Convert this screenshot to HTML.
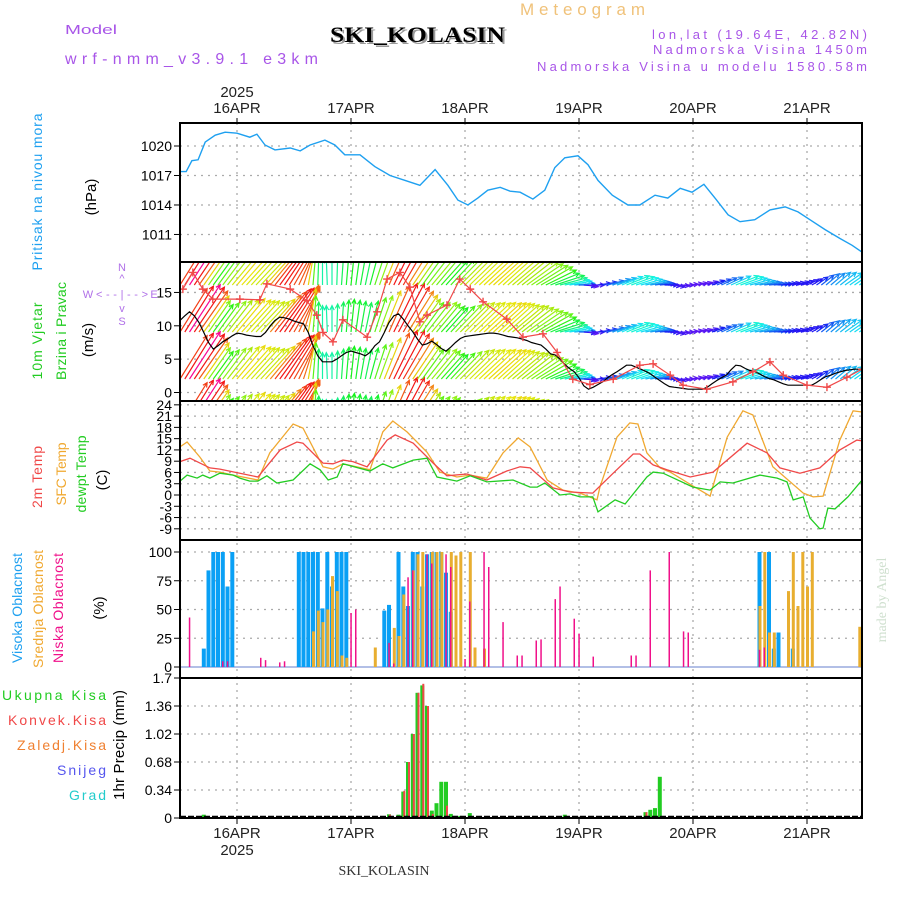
<!DOCTYPE html>
<html><head><meta charset="utf-8"><style>
html,body{margin:0;padding:0;background:#fff;}
svg{display:block;font-family:"Liberation Sans",sans-serif;}
</style></head><body>
<svg id="chart" width="900" height="900" viewBox="0 0 900 900" xmlns="http://www.w3.org/2000/svg">
<rect width="900" height="900" fill="#fff"/>
<g id="header">
<text x="65" y="34" font-size="13" fill="#a855e8" textLength="52" lengthAdjust="spacingAndGlyphs">Model</text>
<text x="65" y="64" font-size="16" fill="#a855e8" textLength="253" lengthAdjust="spacing">wrf-nmm_v3.9.1 e3km</text>
<text x="332" y="44" font-size="22" font-weight="bold" font-family="Liberation Serif,serif" fill="#9a9a9a" textLength="175" lengthAdjust="spacingAndGlyphs">SKI_KOLASIN</text>
<text x="330" y="42" font-size="22" font-weight="bold" font-family="Liberation Serif,serif" fill="#000" textLength="175" lengthAdjust="spacingAndGlyphs">SKI_KOLASIN</text>
<text x="520" y="15" font-size="17" fill="#f0c27a" textLength="125" lengthAdjust="spacing">Meteogram</text>
<text x="652" y="39" font-size="13" fill="#a855e8" textLength="215" lengthAdjust="spacing">lon,lat (19.64E, 42.82N)</text>
<text x="653" y="54" font-size="13" fill="#a855e8" textLength="214" lengthAdjust="spacing">Nadmorska Visina 1450m</text>
<text x="537" y="71" font-size="13" fill="#a855e8" textLength="330" lengthAdjust="spacing">Nadmorska Visina u modelu 1580.58m</text>
</g>
<g id="labels" font-size="14">
<text transform="translate(42,192) rotate(-90)" text-anchor="middle" fill="#1ea0f0" textLength="157" lengthAdjust="spacing">Pritisak na nivou mora</text>
<text transform="translate(96,197) rotate(-90)" text-anchor="middle" fill="#000" font-size="15">(hPa)</text>
<text transform="translate(42,341) rotate(-90)" text-anchor="middle" fill="#22cc22" textLength="77" lengthAdjust="spacing">10m Vjetar</text>
<text transform="translate(66,331) rotate(-90)" text-anchor="middle" fill="#22cc22" textLength="98" lengthAdjust="spacing">Brzina i Pravac</text>
<text transform="translate(93,340) rotate(-90)" text-anchor="middle" fill="#000" font-size="15">(m/s)</text>
<g fill="#b070e8" font-size="11" stroke="none">
<text x="122" y="271" text-anchor="middle">N</text><text x="122" y="282" text-anchor="middle">^</text>
<text x="88" y="298" text-anchor="middle">W</text><text x="154" y="298" text-anchor="middle">E</text>
<text x="122" y="298" text-anchor="middle" textLength="52" lengthAdjust="spacing">&lt;--|--&gt;</text>
<text x="122" y="312" text-anchor="middle">v</text><text x="122" y="325" text-anchor="middle">S</text>
</g>
<text transform="translate(42,477) rotate(-90)" text-anchor="middle" fill="#f04848" textLength="62" lengthAdjust="spacing">2m Temp</text>
<text transform="translate(66,474) rotate(-90)" text-anchor="middle" fill="#f0a830" textLength="63" lengthAdjust="spacing">SFC Temp</text>
<text transform="translate(86,474) rotate(-90)" text-anchor="middle" fill="#22cc22" textLength="77" lengthAdjust="spacing">dewpt Temp</text>
<text transform="translate(107,480) rotate(-90)" text-anchor="middle" fill="#000" font-size="15">(C)</text>
<text transform="translate(22,608) rotate(-90)" text-anchor="middle" fill="#1ea0f0" textLength="110" lengthAdjust="spacing">Visoka Oblacnost</text>
<text transform="translate(43,609) rotate(-90)" text-anchor="middle" fill="#f0a830" textLength="118" lengthAdjust="spacing">Srednja Oblacnost</text>
<text transform="translate(63,608) rotate(-90)" text-anchor="middle" fill="#f0108a" textLength="110" lengthAdjust="spacing">Niska Oblacnost</text>
<text transform="translate(104,608) rotate(-90)" text-anchor="middle" fill="#000" font-size="15">(%)</text>
<g text-anchor="end" font-size="14">
<text x="106" y="700" fill="#22cc22" textLength="104" lengthAdjust="spacing">Ukupna Kisa</text>
<text x="106" y="725" fill="#f04848" textLength="98" lengthAdjust="spacing">Konvek.Kisa</text>
<text x="106" y="750" fill="#f08030" textLength="89" lengthAdjust="spacing">Zaledj.Kisa</text>
<text x="106" y="775" fill="#5555ee" textLength="49" lengthAdjust="spacing">Snijeg</text>
<text x="106" y="800" fill="#22cccc" textLength="37" lengthAdjust="spacing">Grad</text>
</g>
<text transform="translate(124,745) rotate(-90)" text-anchor="middle" fill="#000" font-size="15" textLength="110" lengthAdjust="spacing">1hr Precip (mm)</text>
<text transform="translate(886,600) rotate(-90)" text-anchor="middle" fill="#cfe0cf" font-size="14" font-family="Liberation Serif,serif">made by Angel</text>
<text x="384" y="875" text-anchor="middle" fill="#333" font-size="14" font-family="Liberation Serif,serif">SKI_KOLASIN</text>
</g>
<g id="plots"></g>
</svg>
<script>
// ---- data ----
const dayLabels = ["16APR","17APR","18APR","19APR","20APR","21APR"];
const dayHours = [12,36,60,84,108,132];
const pTicks = [1020,1017,1014,1011];
const windTicks = [15,10,5,0];
const tempTicks = [24,21,18,15,12,9,6,3,0,-3,-6,-9];
const cloudTicks = [100,75,50,25,0];
const precipTicks = [1.7,1.36,1.02,0.68,0.34,0];

const pHours = [0,1.3,2.5,3.8,5.3,7.4,9.5,12,14.7,16.2,17.9,20,23.2,25.3,27.4,30.5,32.6,34.7,37.9,41,44.2,47.4,50.5,53.7,56.4,58.5,60.6,62.7,64.8,67.4,69.5,71.6,74.3,76.8,78.9,81,83.8,85.9,88,91,94.3,96.8,100,102.7,105.3,107.8,110.3,112.8,115.4,117.9,121,124.2,127.4,130.1,132.6,135.8,138.9,141.5,143.6];
const pValues = [1017.4,1017.4,1018.5,1018.6,1020.4,1021.1,1021.4,1021.3,1020.9,1021.2,1020.1,1019.6,1019.8,1019.5,1020.1,1020.6,1020.1,1019.1,1019.1,1017.9,1017.0,1016.5,1016.0,1017.6,1016.0,1014.5,1014.0,1014.7,1015.5,1015.8,1015.4,1015.3,1014.6,1015.5,1017.8,1018.8,1019.0,1018.1,1016.5,1015.0,1014.0,1014.0,1015.0,1014.7,1015.7,1015.3,1016.1,1014.6,1013.0,1012.3,1012.5,1013.5,1013.8,1013.3,1012.5,1011.5,1010.6,1009.9,1009.2];

const windSpeed = [10.8,11.5,12.1,11.5,10.5,9,7.5,6.5,7,7.6,8,8.5,8.9,8.8,8.6,8.5,8.4,8.4,9,10,10.8,11.3,11.2,11,10.7,10.5,10.3,9,7,5.5,4.6,4.6,4.6,5,5.5,6,6.2,6,5.8,5.5,6,7,7.6,9,10.5,11.5,11.8,11,10,9.1,8,7.1,7.3,7.7,7.2,6.6,6.2,6.8,7.5,8.1,8.4,8.5,8.6,8.7,8.8,8.9,8.9,8.8,8.6,8.4,8.3,8.2,8,7.8,7.5,7.3,7.1,6.5,5.8,5.6,5,4.2,3.6,3.1,2.2,1,0.5,0.8,1.2,1.6,2.2,2.7,3.1,3.6,4.1,4.1,3.8,3.5,3.2,2.8,2.3,1.8,1.3,0.9,0.8,0.7,0.6,0.5,0.5,0.5,0.5,0.8,1.3,1.8,2.2,2.6,3.4,4.1,4,3.6,3.3,3.1,2.8,2.4,2.1,1.9,1.6,1.3,1.1,1.1,1.1,1.1,1.1,1.1,1.5,2,2.4,2.6,2.9,3.1,3.3,3.4,3.5,3.5];
const windAngle = [58,58,57,56,55,55,55,54,54,53,52,50,50,48,48,48,47,47,48,50,52,54,56,58,60,65,72,80,85,88,90,92,90,88,86,85,84,82,80,78,75,72,70,68,66,64,62,60,58,56,55,54,52,50,50,48,48,47,46,45,45,44,44,43,43,42,42,42,42,41,40,40,38,36,34,32,30,26,22,18,15,12,10,5,0,-5,-10,0,8,12,15,18,20,22,22,20,18,15,12,10,8,5,0,-5,-10,-5,0,5,10,12,15,18,20,22,25,25,24,22,20,18,15,12,10,8,5,5,5,8,10,12,15,20,25,30,35,38,40,40,40,38,35,35,35,35];
const gustHours = [0.6,2.7,4.8,6.9,12.6,16.8,18.3,23.2,26.7,28.8,30.1,32.2,34.3,39.4,41.5,43.6,46.3,48.4,50.5,52,56.2,58.9,61.1,63.8,68.8,72.2,76.4,79.4,82.7,86.3,91.2,96.8,99.6,103.2,105.9,110.9,116.4,120.6,124.2,127,132,136.2,140.4,143.6];
const gustValues = [15.5,18,15.5,14,14,13.9,16.3,15.5,13.8,11.6,9,7.6,10.9,8.3,12.1,17,18,15.8,10.6,11.6,13.1,17,15.5,13.6,11,8.3,8.8,6,2,1.2,2,4.1,4.3,2.6,1.1,0.5,1.6,3.1,4.6,2.6,1.1,0.8,2.3,3.5];

const t2Hours = [0,2.1,6.3,8.4,12.6,16.4,21.1,24.6,25.9,30.1,32.2,34.3,36.4,39.4,43.6,45.3,49.1,53.3,56.2,60.4,64.6,68.8,71.6,73.7,78.5,82.1,86.9,91.2,95.4,96.8,99.6,102.5,107.4,112.2,119.4,123.6,126.3,130.5,134.7,138.9,142.5,143.6];
const t2Values = [8.9,9.8,7.2,6.9,5.8,4.8,12,14.1,13.8,8.5,8.3,9.3,8.9,7.5,14.6,16,13.8,8.5,5.1,5.6,4,6.4,7.5,7.2,1.9,0.8,0.5,5.8,10.9,10.9,8,6.7,4.8,6.1,13.8,11.2,7.2,5.8,7.2,12,14.6,14.4];
const sfcHours = [0,1.5,4.2,6.3,8.4,11.2,16.4,18.9,23.8,25.9,30.1,32.2,34.3,40,42.7,44.8,47.8,52,54.7,58.3,61.1,64.6,68,71.2,73.7,77.3,80.6,84.2,87.8,88.4,92,94.7,96.4,98.3,101.1,103.2,108,111.6,115.2,118.5,120.6,124.8,131.2,133.3,135.4,138.9,141.7,143.6];
const sfcValues = [12.8,14.1,10.1,6.4,6.1,5.3,4,11.2,18.9,17.8,7.5,6.9,8.3,6.7,16.8,19.7,16.8,11.4,6.1,4.8,5.3,4.5,11.2,15.2,12.8,4,1.3,0.5,-1.3,2.1,15.4,19.2,18.9,11.2,7.2,6.1,2.4,-0.3,15.4,22.4,21.3,7.5,0.5,-0.5,-0.3,14.6,22.4,22.1];
const dewHours = [0,1.5,3.6,4.8,6.3,8.4,11.2,12.6,14.7,16.4,18.3,20.4,23.8,27.4,29.5,31.2,33.1,34.3,40,42.7,44.8,49.1,52,54.1,58.3,61.1,64.6,70.1,73.7,75.2,76.8,80,82.1,84.2,86.9,88,91.6,93.7,98.3,99.6,101.7,108,111.6,113.7,116.4,122.1,125.7,127.8,129.1,131.2,132.6,134.7,135.4,136.4,137.9,140.6,143.6];
const dewValues = [3.7,5.3,4.5,5.3,4.5,5.8,5.3,4.5,3.7,3.7,5.1,3.2,4,8.3,6.7,4,4.8,8.3,6.4,8.3,7.2,9.3,9.8,4.8,3.7,5.1,3.5,4,2.1,2.1,3.2,0,0.3,-0.5,-0.5,-4.5,-1.3,-2.4,4.8,6.1,5.8,2.1,1.3,3.5,3.2,5.3,4.5,3.5,-1.3,-0.5,-6.1,-9,-8.8,-3.5,-3.7,-0.5,4];

const highHours = [5,6,7,8,9,10,11,25,26,27,28,29,30,31,32,33,34,35,43,44,46,47,48,49,50,51,52,53,54,55,56,57,122,124,125,126,129];
const highValues = [16,84,100,100,100,70,100,100,100,100,100,100,51,100,70,100,100,100,49,54,100,70,53,100,100,70,98,100,100,100,82,48,100,100,16,30,16];
const midHours = [28,29,30,31,32,33,34,35,41,45,46,47,49,50,51,53,54,55,57,58,59,61,62,64,122,123,124,125,128,129,130,131,132,133,143];
const midValues = [31,49,39,50,79,66,10,8,17,34,27,63,84,98,100,100,100,100,100,97,100,100,17,16,53,100,30,30,66,100,53,100,70,100,35];
const lowHours = [2,9,10,17,18,21,22,36,37,44,45,48,49,52,53,56,57,60,61,64,65,68,71,72,75,76,79,80,83,84,87,95,96,99,103,106,107,122,123];
const lowValues = [43,5,5,8,6,4,5,47,50,21,3,78,84,98,90,98,87,7,57,100,87,39,10,10,23,24,59,70,42,29,9,10,10,84,100,31,30,15,17];

const precipHours = [5,43,44,46,47,48,49,50,51,52,53,54,55,56,57,58,59,61,62,81,98,99,100,101,103];
const precipTotal = [0.04,0.01,0.045,0.04,0.32,0.68,1.02,1.52,1.61,1.36,0.09,0.18,0.44,0.44,0.05,0.025,0.025,0.06,0.01,0.04,0.07,0.1,0.12,0.5,0.01];
const convHours = [43,44,47,48,49,50,51,52,53,55,56,98];
const convValues = [0.01,0.04,0.33,0.68,1.02,1.52,1.63,1.36,0.05,0.01,0.15,0.07];

// ---- scales ----
const X0 = 180, X1 = 862;
function xs(h){ return X0 + h*4.75; }
function yP(p){ return 146 + (1020-p)*9.83; }
function yW(v){ return 392.5 - v*6.67; }
function yT(t){ return 495 - t*3.757; }
function yC(c){ return 667 - c*1.15; }
function yR(m){ return 818 - m*82.35; }
const panels = [[123,262],[262,401],[401,540],[540,678],[678,818]];

const NS = "http://www.w3.org/2000/svg";
const plots = document.getElementById('plots');
function el(tag, attrs, parent){
  const e = document.createElementNS(NS, tag);
  for (const k in attrs) e.setAttribute(k, attrs[k]);
  (parent||plots).appendChild(e);
  return e;
}
const defs = el('defs', {});
panels.forEach((p,i)=>{
  const cp = el('clipPath', {id:'clip'+i}, defs);
  el('rect', {x:X0, y:p[0], width:X1-X0, height:p[1]-p[0]}, cp);
});

// grids
const grid = el('g', {stroke:'#aaa', 'stroke-width':1.3, 'stroke-dasharray':'2,5'});


dayHours.forEach(h=>{ el('line', {x1:xs(h), x2:xs(h), y1:123, y2:818}, grid); });
function hgrid(ticks, f){ ticks.forEach(t=>{ el('line', {x1:X0, x2:X1, y1:f(t), y2:f(t)}, grid); }); }
hgrid(pTicks, yP); hgrid(windTicks, yW); hgrid(tempTicks, yT); hgrid(cloudTicks.slice(0,4), yC); hgrid(precipTicks.slice(1,5), yR);

// tick labels
const tl = el('g', {'font-size':14, 'text-anchor':'end', fill:'#000'});


function ylabels(ticks, f){ ticks.forEach(t=>{ const tx = el('text', {x:172, y:f(t)+5}, tl); tx.textContent = String(t);
  el('line', {x1:174, x2:180, y1:f(t), y2:f(t), stroke:'#000', 'stroke-width':1}, tl); }); }
ylabels(pTicks, yP); ylabels(windTicks, yW); ylabels(tempTicks, yT); ylabels(cloudTicks, yC); ylabels(precipTicks, yR);

// date labels
const dl = el('g', {'font-size':15, 'text-anchor':'middle', fill:'#222'});


dayLabels.forEach((d,i)=>{
  const x = xs(dayHours[i]);
  const t1 = el('text', {x:x, y:113}, dl); t1.textContent = d;
  const t2 = el('text', {x:x, y:838}, dl); t2.textContent = d;
  el('line', {x1:x, x2:x, y1:118, y2:123, stroke:'#000'}, dl);
  el('line', {x1:x, x2:x, y1:818, y2:824, stroke:'#000'}, dl);
});
const y1 = el('text', {x:xs(12), y:97}, dl); y1.textContent = '2025';
const y2 = el('text', {x:xs(12), y:855}, dl); y2.textContent = '2025';

function line(hours, vals, f, color, w, ci, name){
  const d = hours.map((h,i)=>(i?'L':'M')+xs(h).toFixed(1)+','+f(vals[i]).toFixed(1)).join('');
  const p = el('path', {d:d, fill:'none', stroke:color, 'stroke-width':w, 'clip-path':'url(#clip'+ci+')'});
  
  
  return p;
}

// pressure
line(pHours, pValues, yP, '#1ea0f0', 1.4, 0, 'pressure-line');

// wind arrows
const wg = el('g', {'clip-path':'url(#clip1)', 'stroke-width':1.2, fill:'none'});


const rowBases = [285, 332, 379, 426];
function wcol(s){ if (s >= 12) return 'hsl(325,95%,50%)'; const hue = Math.max(0, 270 - s*24); return 'hsl('+hue+',90%,'+(hue>40&&hue<80?48:52)+'%)'; }
windSpeed.forEach((s,i)=>{
  const a = windAngle[i]*Math.PI/180, L = 8 + 4*s;
  const dx = Math.cos(a)*L, dy = -Math.sin(a)*L;
  const c = wcol(s);
  rowBases.forEach(b=>{
    const x = xs(i), tx = x+dx, ty = b+dy;
    const h1a = a + Math.PI - 0.45, h2a = a + Math.PI + 0.45, hl = 5;
    const arr = el('path', {d:'M'+x.toFixed(1)+','+b+'L'+tx.toFixed(1)+','+ty.toFixed(1)+
      'M'+(tx+Math.cos(h1a)*hl).toFixed(1)+','+(ty-Math.sin(h1a)*hl).toFixed(1)+'L'+tx.toFixed(1)+','+ty.toFixed(1)+
      'L'+(tx+Math.cos(h2a)*hl).toFixed(1)+','+(ty-Math.sin(h2a)*hl).toFixed(1), stroke:c}, wg);
    
    
  });
});
line(windSpeed.map((v,i)=>i), windSpeed, yW, '#000', 1.2, 1, 'wind-speed-line');
line(gustHours, gustValues, yW, '#f04848', 1.2, 1, 'gust-line');
const gg = el('g', {stroke:'#f04848', 'stroke-width':1.4, 'clip-path':'url(#clip1)'});


gustHours.forEach((h,i)=>{
  const x = xs(h), y = yW(gustValues[i]);
  const m = el('path', {d:'M'+(x-4)+','+y+'H'+(x+4)+'M'+x+','+(y-4)+'V'+(y+4)}, gg);
  
  
});

// temperatures
line(sfcHours, sfcValues, yT, '#f0a830', 1.3, 2, 'sfc-temp-line');
line(t2Hours, t2Values, yT, '#f04848', 1.3, 2, 'temp-2m-line');
line(dewHours, dewValues, yT, '#22cc22', 1.3, 2, 'dewpoint-line');

// clouds
const cg = el('g', {});


el('line', {x1:X0, x2:X1, y1:yC(0), y2:yC(0), stroke:'#9ad', 'stroke-width':1.5}, cg);
function bars(hours, vals, f, color, w, off, group, name){
  hours.forEach((h,i)=>{
    const y = f(vals[i]), y0 = f(0);
    const r = el('rect', {x:(xs(h)+off-w/2).toFixed(1), y:y.toFixed(1), width:w, height:Math.max(0,y0-y).toFixed(1), fill:color}, group);
    
    
  });
}
bars(highHours, highValues, yC, '#0aa0f5', 4, 0, cg, 'high-cloud-bar');
bars(midHours, midValues, yC, '#e8ae30', 3, 0.5, cg, 'mid-cloud-bar');
bars(lowHours, lowValues, yC, '#f0108a', 1.5, 0, cg, 'low-cloud-bar');

// precip
const pg = el('g', {});


bars(precipHours, precipTotal, yR, '#22cc22', 4, 0, pg, 'total-precip-bar');
bars(convHours, convValues, yR, '#f04848', 2, 1, pg, 'convective-precip-bar');
el('line', {x1:X0, x2:X1, y1:678, y2:678, stroke:'#000', 'stroke-width':1.5, 'stroke-dasharray':'6,2'}, pg);
el('line', {x1:X0, x2:X1, y1:817, y2:817, stroke:'#000', 'stroke-width':2.5, 'stroke-dasharray':'6,2'}, pg);

// frames
const fr = el('g', {fill:'none', stroke:'#000', 'stroke-width':2});


panels.forEach(p=>{ el('rect', {x:X0, y:p[0], width:X1-X0, height:p[1]-p[0]}, fr); });
</script>
</body></html>
